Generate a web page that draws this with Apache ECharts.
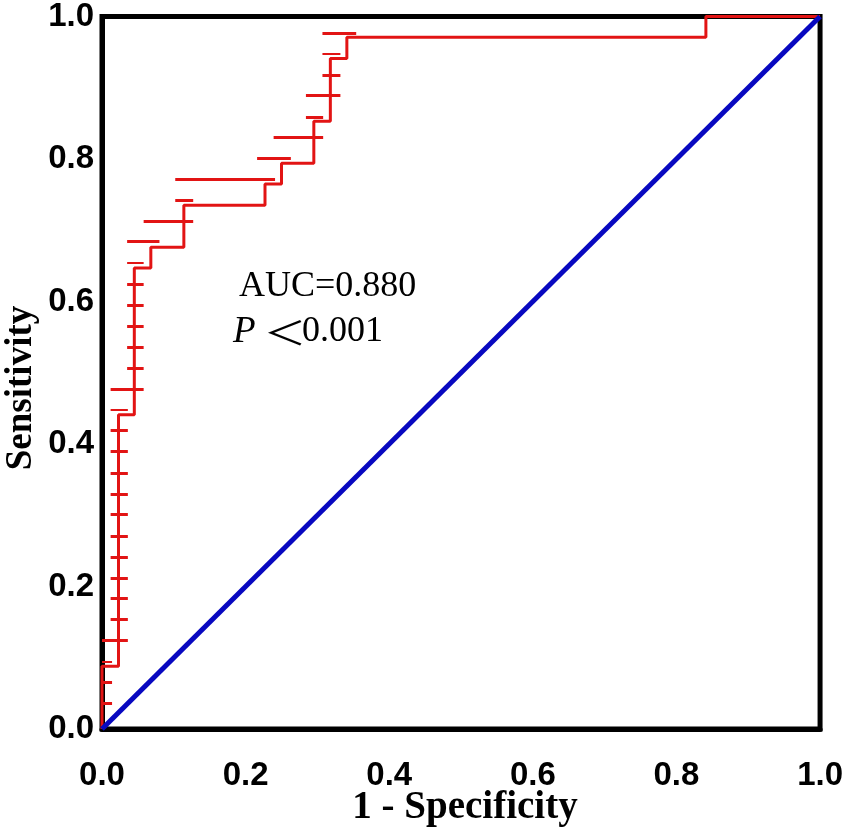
<!DOCTYPE html>
<html>
<head>
<meta charset="utf-8">
<script src="https://cdn.jsdelivr.net/npm/echarts@6/dist/echarts.min.js"></script>
<style>
html,body{margin:0;padding:0;background:#fff;}
#chart{width:846px;height:833px;}
</style>
</head>
<body>
<div id="chart"></div>
<script>
// ROC step curve vertices (1 - specificity, sensitivity)
const rocFpr = [0, 0, 0.023, 0.023, 0.045, 0.045, 0.068, 0.068, 0.114, 0.114, 0.227, 0.227, 0.250, 0.250, 0.295, 0.295, 0.318, 0.318, 0.341, 0.341, 0.841, 0.841, 1];
const rocTpr = [0, 0.088, 0.088, 0.441, 0.441, 0.647, 0.647, 0.676, 0.676, 0.735, 0.735, 0.765, 0.765, 0.794, 0.794, 0.853, 0.853, 0.941, 0.941, 0.971, 0.971, 1, 1];
// reference diagonal
const refX = [0, 1];
const refY = [0, 1];
// short horizontal marks along the curve
const markY  = [0.036, 0.066, 0.094, 0.125, 0.154, 0.183, 0.212, 0.241, 0.271, 0.301, 0.330, 0.359, 0.390, 0.419, 0.448, 0.477, 0.506, 0.536, 0.565, 0.595, 0.624, 0.654, 0.684, 0.713, 0.742, 0.772, 0.801, 0.831, 0.859, 0.890, 0.918, 0.948, 0.977];
const markX1 = [0, 0, 0, 0, 0.012, 0.012, 0.012, 0.012, 0.012, 0.012, 0.012, 0.012, 0.012, 0.012, 0.012, 0.012, 0.035, 0.035, 0.035, 0.035, 0.035, 0.035, 0.035, 0.058, 0.102, 0.102, 0.216, 0.239, 0.284, 0.284, 0.307, 0.307, 0.307];
const markX2 = [0.014, 0.014, 0.014, 0.036, 0.036, 0.036, 0.036, 0.036, 0.036, 0.036, 0.036, 0.036, 0.036, 0.036, 0.036, 0.058, 0.058, 0.058, 0.058, 0.058, 0.058, 0.058, 0.080, 0.127, 0.127, 0.241, 0.263, 0.308, 0.308, 0.332, 0.332, 0.332, 0.354];
const markThin = [2, 14, 21, 31];
const axisTickValues = [0, 0.2, 0.4, 0.6, 0.8, 1.0];
const xTitle = '1 - Specificity';
const yTitle = 'Sensitivity';
const aucText = 'AUC=0.880';
const pLetter = 'P';
const pSign = '＜';
const pText = '0.001';

const RED = '#e21414';
const BLUE = '#0808c0';

const chart = echarts.init(document.getElementById('chart'), null, {renderer: 'canvas'});

const rocData = rocFpr.map((x, i) => [x, rocTpr[i]]);
const refData = refX.map((x, i) => [x, refY[i]]);
const markData = markY.map((y, i) => ({
  coords: [[markX1[i], y], [markX2[i], y]],
  lineStyle: {width: markThin.indexOf(i) >= 0 ? 2 : 3}
}));

const labelStyle = {
  fontFamily: 'Liberation Sans',
  fontWeight: 'bold',
  fontSize: 33,
  lineHeight: 33,
  color: '#000'
};

chart.setOption({
  animation: false,
  backgroundColor: '#fff',
  grid: {
    left: 102, right: 25, top: 13, bottom: 104,
    show: true, borderColor: '#000', borderWidth: 5,
    containLabel: false
  },
  xAxis: {
    type: 'value', min: 0, max: 1, interval: 0.2,
    axisLine: {show: true, lineStyle: {color: '#000', width: 5}},
    axisTick: {show: false},
    splitLine: {show: false},
    axisLabel: Object.assign({margin: 30, formatter: v => axisTickValues.indexOf(v) >= 0 ? v.toFixed(1) : ''}, labelStyle)
  },
  yAxis: {
    type: 'value', min: 0, max: 1, interval: 0.2,
    axisLine: {show: true, lineStyle: {color: '#000', width: 5}},
    axisTick: {show: false},
    splitLine: {show: false},
    axisLabel: Object.assign({margin: 8, formatter: v => axisTickValues.indexOf(v) >= 0 ? v.toFixed(1) : ''}, labelStyle)
  },
  series: [
    {
      type: 'line', data: rocData, symbol: 'none', z: 3,
      lineStyle: {color: RED, width: 3}
    },
    {
      type: 'lines', coordinateSystem: 'cartesian2d', z: 3,
      data: markData,
      lineStyle: {color: RED, width: 3, opacity: 1},
      silent: true
    },
    {
      type: 'line', data: refData, symbol: 'none', z: 4,
      lineStyle: {color: BLUE, width: 5}
    }
  ],
  graphic: [
    {
      type: 'text', x: 465, y: 808, z: 10,
      style: {text: xTitle, font: 'bold 39px "Liberation Serif"', fill: '#000', align: 'center', verticalAlign: 'middle'}
    },
    {
      type: 'text', x: 21, y: 388, rotation: Math.PI / 2, z: 10,
      style: {text: yTitle, font: 'bold 37px "Liberation Serif"', fill: '#000', align: 'center', verticalAlign: 'middle'}
    },
    {
      type: 'text', x: 239, y: 287, z: 10,
      style: {text: aucText, font: '36px "Liberation Serif"', fill: '#000', align: 'left', verticalAlign: 'middle'}
    },
    {
      type: 'text', x: 233, y: 332, z: 10,
      style: {text: pLetter, font: 'italic 37px "Liberation Serif"', fill: '#000', align: 'left', verticalAlign: 'middle'}
    },
    {
      type: 'text', x: 285, y: 332, scaleX: 1.3, z: 10,
      style: {text: pSign, font: '33px "Noto Sans CJK SC"', fill: '#000', align: 'center', verticalAlign: 'middle'}
    },
    {
      type: 'text', x: 302, y: 332, z: 10,
      style: {text: pText, font: '36px "Liberation Serif"', fill: '#000', align: 'left', verticalAlign: 'middle'}
    }
  ]
});
</script>
</body>
</html>
